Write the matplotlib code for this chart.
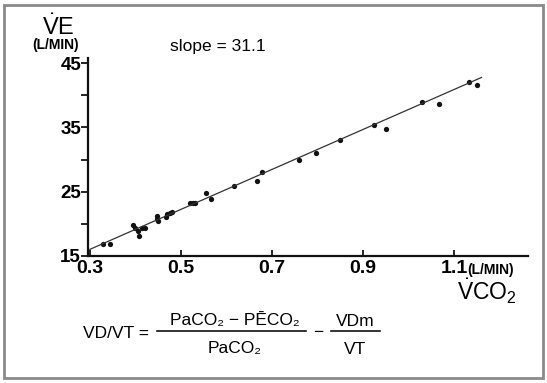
import matplotlib
matplotlib.use("Agg")
import matplotlib.pyplot as plt
import matplotlib.transforms as mtransforms
from matplotlib.lines import Line2D
from matplotlib.patches import Rectangle

# ----------- DATA -------------------------------------
vco2 = [0.328, 0.345, 0.395, 0.399, 0.406, 0.408, 0.414, 0.421,
        0.448, 0.448, 0.449, 0.467, 0.470, 0.476, 0.480,
        0.520, 0.527, 0.531, 0.555, 0.567, 0.616, 0.666, 0.677,
        0.760, 0.796, 0.849, 0.923, 0.950, 1.029, 1.067, 1.133, 1.151]
ve = [16.8, 16.8, 19.8, 19.3, 18.9, 18.1, 19.3, 19.4,
      21.3, 20.8, 20.5, 21.1, 21.5, 21.7, 21.9,
      23.3, 23.2, 23.2, 24.75, 23.9, 25.9, 26.7, 28.0,
      30.0, 31.0, 33.0, 35.4, 34.8, 38.9, 38.7, 42.1, 41.6]

fit_slope = 31.1
fit_intercept = 6.7
fit_range = [0.30, 1.16]

x_ticks = [0.3, 0.5, 0.7, 0.9, 1.1]
y_ticks = [15, 20, 25, 30, 35, 40, 45]
y_labels = ["15", "", "25", "", "35", "", "45"]

plt.rcParams['font.family'] = ['Liberation Sans', 'DejaVu Sans']
plt.rcParams['mathtext.fontset'] = 'custom'
plt.rcParams['mathtext.rm'] = 'Liberation Sans'

fig = plt.figure(figsize=(5.47, 3.83), dpi=100)
ax = fig.add_axes([88 / 547, 1 - 256 / 383, 440 / 547, 198 / 383])

# scatter + regression line
ax.plot(vco2, ve, 'o', color='#111111', ms=3.8, mec='none')
fit_y = [fit_slope * x + fit_intercept for x in fit_range]
ax.plot(fit_range, fit_y, color='#333333', lw=0.9)

ax.set_xlim(0.296, 1.262)
ax.set_ylim(15, 45.8)
for s in ('top', 'right'):
    ax.spines[s].set_visible(False)
for s in ('left', 'bottom'):
    ax.spines[s].set_linewidth(1.6)
    ax.spines[s].set_color('#111111')

ax.set_xticks(x_ticks)
ax.set_xticklabels([f"{t:.1f}" for t in x_ticks], fontsize=14, fontweight='bold')
ax.set_yticks(y_ticks)
ax.set_yticklabels(y_labels, fontsize=13.5, fontweight='bold')
ax.tick_params(axis='x', direction='in', length=4, width=1.2, pad=3)
ax.tick_params(axis='y', direction='out', length=5, width=1.2, pad=0)

# axis labels and notes
fig.text(42 / 547, 1 - 27 / 383, r'$\dot{\mathrm{V}}\mathrm{E}$', fontsize=17,
         ha='left', va='center')
fig.text(56 / 547, 1 - 45 / 383, '(L/MIN)', fontsize=10, ha='center', va='center',
         fontweight='bold')
fig.text(170 / 547, 1 - 46 / 383, 'slope = 31.1', fontsize=12.5, ha='left', va='center')
fig.text(467 / 547, 1 - 270 / 383, '(L/MIN)', fontsize=10, ha='left', va='center',
         fontweight='bold')
fig.text(487 / 547, 1 - 291 / 383, r'$\dot{\mathrm{V}}\mathrm{CO}_2$', fontsize=16.5,
         ha='center', va='center')

# dead-space formula below the chart
fig.text(149 / 547, 1 - 334 / 383, 'VD/VT =', fontsize=12.5, ha='right', va='center')
fig.text(235 / 547, 1 - 321 / 383, 'PaCO₂ − PĒCO₂', fontsize=12.5, ha='center', va='center')
fig.add_artist(Line2D([157 / 547, 306 / 547], [1 - 331 / 383] * 2, color='#111111', lw=1.2))
fig.text(235 / 547, 1 - 349 / 383, 'PaCO₂', fontsize=12.5, ha='center', va='center')
fig.text(318 / 547, 1 - 333 / 383, '−', fontsize=12.5, ha='center', va='center')
fig.text(355 / 547, 1 - 321 / 383, 'VDm', fontsize=12.5, ha='center', va='center')
fig.add_artist(Line2D([331 / 547, 380 / 547], [1 - 331 / 383] * 2, color='#111111', lw=1.2))
fig.text(355 / 547, 1 - 349 / 383, 'VT', fontsize=12.5, ha='center', va='center')

# grey frame round the whole panel
fig.add_artist(Rectangle((4 / 547, 5 / 383), 539 / 547, 373 / 383, fill=False,
                         edgecolor='#8a8a8a', lw=2, transform=fig.transFigure))

fig.savefig('out.png', dpi=100)
